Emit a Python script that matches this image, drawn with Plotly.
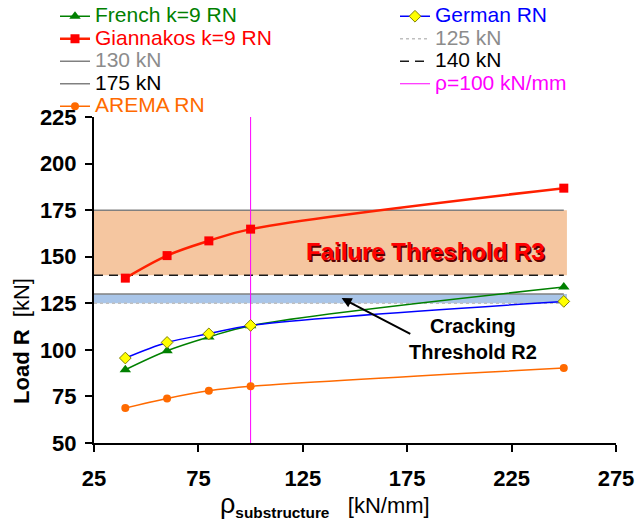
import plotly.graph_objects as go

# ---- data ----
rho = [40, 60, 80, 100, 250]
french = [89.3, 99.5, 106.9, 113.0, 133.7]
giannakos = [138.5, 150.6, 158.5, 164.8, 186.8]
german = [95.6, 104.0, 108.6, 113.1, 126.0]
arema = [68.8, 73.9, 78.0, 80.4, 90.2]

threshold_x = [25, 250]
band_x_end = 251.5
crack_low, crack_high = 125, 130
fail_low, fail_high = 140, 175
rho_ref = 100

x_ticks = [25, 75, 125, 175, 225, 275]
y_ticks = [50, 75, 100, 125, 150, 175, 200, 225]
x_range = [25, 275]
y_range = [50, 225]

FONT = "Liberation Sans, Arial, sans-serif"
LEG_SIZE = 21


def lname(text, color):
    return f"<span style='font-size:{LEG_SIZE}px;fill:{color}'>{text}</span>"


fig = go.Figure()

# Threshold lines (legend entries)
fig.add_trace(go.Scatter(x=threshold_x, y=[crack_low] * 2, mode="lines",
                         line=dict(color="#BFBFBF", width=1.5, dash="3px,3px"),
                         name=lname("125 kN", "#8C8C8C"), legend="legend2", legendrank=2))
fig.add_trace(go.Scatter(x=threshold_x, y=[crack_high] * 2, mode="lines",
                         line=dict(color="#808080", width=1.5),
                         name=lname("130 kN", "#8C8C8C"), legend="legend", legendrank=3))
fig.add_trace(go.Scatter(x=threshold_x, y=[fail_low] * 2, mode="lines",
                         line=dict(color="#1a1a1a", width=1.5, dash="9px,6px"),
                         name=lname("140 kN", "#000000"), legend="legend2", legendrank=3))
fig.add_trace(go.Scatter(x=threshold_x, y=[fail_high] * 2, mode="lines",
                         line=dict(color="#808080", width=1.5),
                         name=lname("175 kN", "#000000"), legend="legend", legendrank=4))
fig.add_trace(go.Scatter(x=[rho_ref, rho_ref], y=y_range, mode="lines",
                         line=dict(color="#FF00FF", width=1),
                         name=lname("ρ=100 kN/mm", "#FF00FF"), legend="legend2", legendrank=4))

# Data series
fig.add_trace(go.Scatter(x=rho, y=arema, mode="lines+markers", line=dict(color="#FF6A00", width=1.5, shape="spline"),
                         marker=dict(symbol="circle", size=8, color="#FF6A00"),
                         name=lname("AREMA RN", "#FF6A00"), legend="legend", legendrank=5))
fig.add_trace(go.Scatter(x=rho, y=french, mode="lines+markers", line=dict(color="#008000", width=1.5, shape="spline"),
                         marker=dict(symbol="triangle-up", size=10, color="#008000"),
                         name=lname("French k=9 RN", "#008000"), legend="legend", legendrank=1))
fig.add_trace(go.Scatter(x=rho, y=german, mode="lines+markers", line=dict(color="#0000FF", width=1.5, shape="spline"),
                         marker=dict(symbol="diamond", size=9, color="#FFFF00", line=dict(color="#808000", width=1)),
                         name=lname("German RN", "#0000FF"), legend="legend2", legendrank=1))
fig.add_trace(go.Scatter(x=rho, y=giannakos, mode="lines+markers", line=dict(color="#FF2000", width=2.5, shape="spline"),
                         marker=dict(symbol="square", size=9, color="#FF0000"),
                         name=lname("Giannakos k=9 RN", "#FF0000"), legend="legend", legendrank=2))

# Bands
fig.add_shape(type="rect", xref="x", yref="y", x0=x_range[0], x1=band_x_end, y0=fail_low, y1=fail_high,
              fillcolor="#F5C6A0", line_width=0, layer="below")
fig.add_shape(type="rect", xref="x", yref="y", x0=x_range[0], x1=band_x_end, y0=crack_low, y1=crack_high,
              fillcolor="#A9C5E8", line_width=0, layer="below")

# Annotations
fig.add_annotation(x=183.6, y=152.8, xref="x", yref="y", showarrow=False,
                   text="Failure Threshold R3",
                   font=dict(family=FONT, size=24, color="#FF0000", weight="bold",
                             shadow="1.5px 1.5px 0px #5a0000"))
fig.add_annotation(x=206.6, y=106, xref="x", yref="y", showarrow=False,
                   text="Cracking<br>Threshold R2",
                   font=dict(family=FONT, size=20, color="#000000", weight="bold"))
fig.add_annotation(x=143.6, y=127.8, ax=177.2, ay=108.1, xref="x", yref="y", axref="x", ayref="y",
                   text="", showarrow=True, arrowhead=2, arrowsize=1, arrowwidth=2, arrowcolor="#000000")

# Axis titles
fig.add_annotation(xref="paper", yref="paper", x=-0.138, y=0.313, showarrow=False, textangle=-90,
                   text="<b>Load R</b>\u00a0\u00a0[kN]", font=dict(family=FONT, size=22, color="#000000"),
                   xanchor="center", yanchor="middle")
fig.add_annotation(xref="paper", yref="paper", x=0.4425, y=-0.19, showarrow=False,
                   text="<span style='font-size:27px'>ρ</span><sub><b>substructure</b></sub>\u00a0\u00a0\u00a0[kN/mm]",
                   font=dict(family=FONT, size=22, color="#000000"),
                   xanchor="center", yanchor="middle")

axis_common = dict(showline=True, linecolor="#000000", linewidth=2, ticks="outside", ticklen=7,
                   tickwidth=2, tickcolor="#000000", showgrid=False, zeroline=False,
                   tickfont=dict(family=FONT, size=22, color="#000000", weight="bold"))

fig.update_xaxes(range=x_range, tickvals=x_ticks, ticklabelstandoff=8, **axis_common)
fig.update_yaxes(range=y_range, tickvals=y_ticks, ticklabelstandoff=4, **axis_common)

leg_common = dict(xref="container", yref="container", xanchor="left", yanchor="top", y=1.0,
                  orientation="v", bgcolor="rgba(0,0,0,0)", borderwidth=0,
                  font=dict(family=FONT, size=15), traceorder="normal", itemwidth=30)

fig.update_layout(
    width=635, height=522,
    margin=dict(l=94, r=19, t=117, b=79, autoexpand=False),
    plot_bgcolor="white", paper_bgcolor="white",
    font=dict(family=FONT),
    showlegend=True,
    hovermode=False,
    legend=dict(x=55 / 635, **leg_common),
    legend2=dict(x=395 / 635, **leg_common),
)

fig.write_html("out.html", config={"displayModeBar": False},
               post_script="document.body.style.margin='0';")
